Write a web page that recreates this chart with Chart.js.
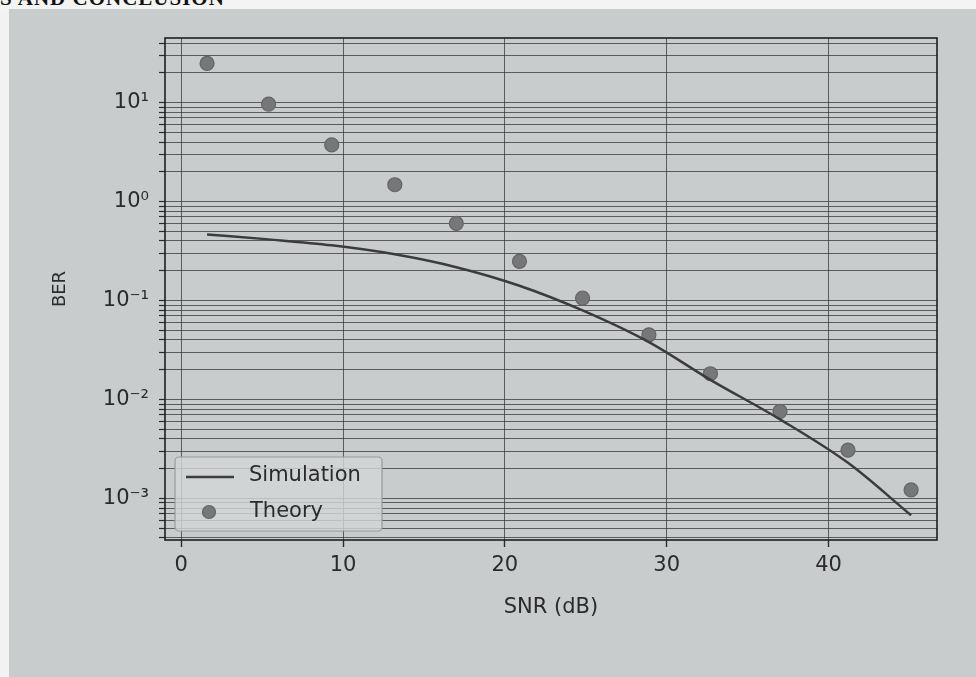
<!DOCTYPE html>
<html>
<head>
<meta charset="utf-8">
<script src="https://cdn.jsdelivr.net/npm/chart.js@4.4.1/dist/chart.umd.min.js"></script>
<style>
  html, body { margin: 0; padding: 0; }
  body {
    width: 976px; height: 677px; overflow: hidden; position: relative;
    background: #c9cccd;
  }
  #strip-top { position: absolute; left: 0; top: 0; width: 976px; height: 9px; background: #f4f4f4; overflow: hidden; }
  #strip-left { position: absolute; left: 0; top: 9px; width: 9px; height: 668px; background: #f2f2f2; }
  #heading { position: absolute; left: 0; top: -14px; font: bold 21px "Liberation Serif", serif; color: #111; white-space: nowrap; letter-spacing: 1px; }
  #wrap { position: absolute; left: 0; top: 0; width: 976px; height: 677px; }
</style>
</head>
<body>
<div id="strip-top"><div id="heading">S AND CONCLUSION</div></div>
<div id="strip-left"></div>
<div id="wrap"><canvas id="berChart" width="976" height="677"></canvas></div>
<script>
// SNR points (dB)
const snrDb = [1.6, 5.4, 9.3, 13.2, 17.0, 20.9, 24.8, 28.9, 32.7, 37.0, 41.2, 45.1];
// Theory markers
const theoryBer = [24.9, 9.66, 3.74, 1.48, 0.601, 0.249, 0.106, 0.045, 0.0182, 0.00757, 0.00307, 0.00122];
// Simulation curve
const simulationBer = [0.466, 0.415, 0.361, 0.293, 0.217, 0.141, 0.0794, 0.038, 0.0158, 0.0063, 0.00229, 0.000676];
const xTickValues = [0, 10, 20, 30, 40];
const yDecades = [-4, -3, -2, -1, 0, 1];

const ink = '#2b2b2b';
const gridInk = 'rgba(55,55,55,0.75)';
const font = '"DejaVu Sans", sans-serif';

const sup = { '-': '\u207b', '0': '\u2070', '1': '\u00b9', '2': '\u00b2', '3': '\u00b3', '4': '\u2074', '5': '\u2075', '6': '\u2076', '7': '\u2077', '8': '\u2078', '9': '\u2079' };
function powLabel(v) {
  const e = Math.log10(v);
  if (Math.abs(e - Math.round(e)) > 1e-9) return '';
  return '10' + String(Math.round(e)).split('').map(c => sup[c]).join('');
}

// frame + legend inside the axes, like matplotlib
const frameAndLegend = {
  id: 'frameAndLegend',
  afterDatasetsDraw(chart) {
    const { ctx, chartArea: a } = chart;
    ctx.save();
    ctx.strokeStyle = '#1e1e1e';
    ctx.lineWidth = 1.6;
    ctx.strokeRect(a.left, a.top, a.right - a.left, a.bottom - a.top);

    // legend box
    const bx = 175, by = 457, bw = 207, bh = 74;
    ctx.beginPath();
    ctx.roundRect(bx, by, bw, bh, 4);
    ctx.fillStyle = 'rgba(210,213,214,0.82)';
    ctx.fill();
    ctx.strokeStyle = '#9a9a9a';
    ctx.lineWidth = 1.2;
    ctx.stroke();

    const sim = chart.data.datasets[0], th = chart.data.datasets[1];
    ctx.strokeStyle = sim.borderColor;
    ctx.lineWidth = sim.borderWidth;
    ctx.beginPath();
    ctx.moveTo(186, 477);
    ctx.lineTo(234, 477);
    ctx.stroke();

    ctx.beginPath();
    ctx.arc(209, 512, 6.5, 0, Math.PI * 2);
    ctx.fillStyle = th.backgroundColor;
    ctx.fill();
    ctx.strokeStyle = th.borderColor;
    ctx.lineWidth = 1.2;
    ctx.stroke();

    ctx.fillStyle = ink;
    ctx.font = '21px ' + font;
    ctx.textBaseline = 'middle';
    ctx.fillText(sim.label, 249, 476);
    ctx.fillText(th.label, 250, 512);
    ctx.restore();
  }
};

new Chart(document.getElementById('berChart'), {
  type: 'line',
  data: {
    datasets: [
      {
        label: 'Simulation',
        data: snrDb.map((x, i) => ({ x, y: simulationBer[i] })),
        borderColor: '#3c3c3c',
        borderWidth: 2.5,
        pointRadius: 0,
        cubicInterpolationMode: 'monotone',
        fill: false
      },
      {
        label: 'Theory',
        data: snrDb.map((x, i) => ({ x, y: theoryBer[i] })),
        showLine: false,
        backgroundColor: '#757778',
        borderColor: '#636566',
        borderWidth: 1.2,
        pointRadius: 7,
        pointHoverRadius: 7
      }
    ]
  },
  options: {
    responsive: false,
    animation: false,
    layout: { padding: { left: 46, top: 38, right: 39, bottom: 47 } },
    plugins: {
      legend: { display: false },
      tooltip: { enabled: false }
    },
    scales: {
      x: {
        type: 'linear',
        min: -1,
        max: 46.7,
        afterBuildTicks: (scale) => { scale.ticks = xTickValues.map(v => ({ value: v })); },
        afterFit: (scale) => { scale.height = 90; },
        grid: { color: gridInk, lineWidth: 1, drawTicks: true, tickLength: 7, tickColor: ink, tickWidth: 1.4 },
        border: { display: false },
        ticks: { color: ink, font: { family: font, size: 21 }, padding: 6, maxRotation: 0, autoSkip: false },
        title: { display: true, text: 'SNR (dB)', color: ink, font: { family: font, size: 21 }, padding: { top: 4, bottom: 10 } }
      },
      y: {
        type: 'logarithmic',
        min: 0.00038,
        max: 45,
        afterBuildTicks: (scale) => {
          const t = [];
          yDecades.forEach(e => {
            for (let m = 1; m <= 9; m++) {
              const v = m * Math.pow(10, e);
              if (v >= scale.min && v <= scale.max) t.push({ value: v, major: m === 1 });
            }
          });
          scale.ticks = t;
        },
        afterFit: (scale) => { scale.width = 119; },
        grid: {
          color: gridInk,
          lineWidth: 1,
          drawTicks: true,
          tickLength: 6,
          tickColor: ink,
          tickWidth: 1.2
        },
        border: { display: false },
        ticks: {
          color: ink,
          font: { family: font, size: 21 },
          padding: 10,
          autoSkip: false,
          callback: (v) => powLabel(v)
        },
        title: { display: true, text: 'BER', color: ink, font: { family: font, size: 18 }, padding: { top: 4, bottom: 4 } }
      }
    }
  },
  plugins: [frameAndLegend]
});
</script>
</body>
</html>
